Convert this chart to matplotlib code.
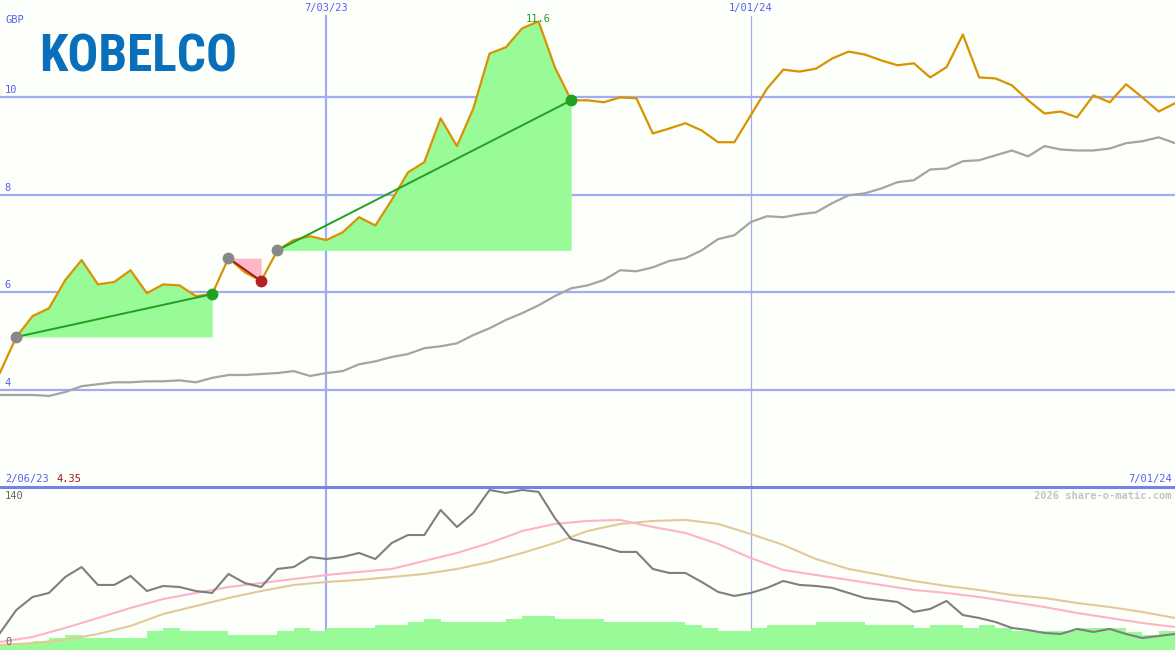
import numpy as np
import pandas as pd
import matplotlib
matplotlib.use("Agg")
import matplotlib.pyplot as plt
from matplotlib.lines import Line2D
from matplotlib.transforms import blended_transform_factory

# weekly closes, GBP
dates = pd.date_range('2023-02-13', periods=73, freq='7D')
price = [4.35, 5.08, 5.51, 5.67, 6.25, 6.66, 6.16, 6.21, 6.45, 5.98,
         6.16, 6.14, 5.92, 5.96, 6.70, 6.41, 6.23, 6.86, 7.07, 7.15,
         7.07, 7.23, 7.54, 7.37, 7.89, 8.46, 8.67, 9.57, 9.00, 9.77,
         10.90, 11.03, 11.42, 11.56, 10.62, 9.94, 9.94, 9.90, 10.00, 9.98,
         9.26, 9.36, 9.47, 9.32, 9.08, 9.08, 9.63, 10.18, 10.57, 10.53,
         10.59, 10.80, 10.94, 10.88, 10.76, 10.66, 10.70, 10.41, 10.62, 11.29,
         10.41, 10.39, 10.25, 9.94, 9.67, 9.71, 9.59, 10.04, 9.90, 10.27,
         10.00, 9.71, 9.88]
avg_slow = [3.89, 3.89, 3.89, 3.87, 3.95, 4.07, 4.11, 4.15, 4.15, 4.17,
            4.17, 4.19, 4.15, 4.24, 4.30, 4.30, 4.32, 4.34, 4.38, 4.28,
            4.34, 4.38, 4.52, 4.58, 4.67, 4.73, 4.85, 4.89, 4.95, 5.12,
            5.26, 5.43, 5.57, 5.73, 5.92, 6.08, 6.14, 6.25, 6.45, 6.43,
            6.51, 6.64, 6.70, 6.86, 7.09, 7.17, 7.44, 7.56, 7.54, 7.60,
            7.64, 7.83, 7.99, 8.03, 8.13, 8.26, 8.30, 8.52, 8.54, 8.69,
            8.71, 8.81, 8.91, 8.79, 9.00, 8.93, 8.91, 8.91, 8.95, 9.06,
            9.10, 9.18, 9.06]

# trades: (entry index, exit index)
trades = [(1, 13), (14, 16), (17, 35)]

# lower panel
osc = [14.9, 35.0, 46.4, 49.9, 63.9, 72.6, 56.9, 56.9, 64.8, 51.6,
       56.0, 55.1, 51.6, 49.9, 66.5, 58.6, 55.1, 70.9, 72.6, 81.4,
       79.6, 81.4, 84.9, 79.6, 93.6, 100.6, 100.6, 122.5, 107.6, 119.9,
       140.0, 137.4, 140.0, 138.3, 115.5, 97.1, 93.6, 90.1, 85.8, 85.8,
       70.9, 67.4, 67.4, 59.5, 50.8, 47.3, 49.9, 54.3, 60.4, 56.9,
       56.0, 54.3, 49.9, 45.5, 43.8, 42.0, 33.3, 35.9, 42.9, 30.6,
       28.0, 24.5, 19.3, 17.5, 14.9, 14.0, 18.4, 15.8, 18.4, 14.0,
       10.5, 12.3, 14.0]
# smoothed lines, every second week
osc_fast = [7.0, 11.4, 19.3, 28.0, 36.8, 44.6, 49.9, 55.1, 58.6, 62.1,
            65.6, 68.3, 70.9, 77.9, 84.9, 93.6, 104.1, 110.3, 112.9, 113.8,
            107.6, 102.4, 92.8, 80.5, 70.0, 65.6, 61.3, 56.9, 52.5, 49.9,
            46.4, 42.0, 37.6, 32.4, 28.0, 23.6, 20.1]
osc_slow = [4.4, 6.1, 8.8, 14.0, 21.0, 31.5, 38.5, 45.5, 51.6, 56.9,
            59.5, 61.3, 63.9, 66.5, 70.9, 77.0, 84.9, 93.6, 104.1, 110.3,
            112.9, 113.8, 110.3, 101.5, 91.9, 79.6, 70.9, 65.6, 60.4, 56.0,
            52.5, 48.1, 45.5, 41.1, 37.6, 33.3, 28.0]
volume = [5.3, 5.3, 7.9, 10.5, 13.1, 10.5, 10.5, 10.5, 10.5, 16.6,
          19.3, 16.6, 16.6, 16.6, 13.1, 13.1, 13.1, 16.6, 19.3, 16.6,
          19.3, 19.3, 19.3, 21.9, 21.9, 24.5, 27.1, 24.5, 24.5, 24.5,
          24.5, 27.1, 29.8, 29.8, 27.1, 27.1, 27.1, 24.5, 24.5, 24.5,
          24.5, 24.5, 21.9, 19.3, 16.6, 16.6, 19.3, 21.9, 21.9, 21.9,
          24.5, 24.5, 24.5, 21.9, 21.9, 21.9, 19.3, 21.9, 21.9, 19.3,
          21.9, 19.3, 16.6, 16.6, 16.6, 16.6, 19.3, 19.3, 19.3, 15.8,
          13.1, 16.6]

y_ticks = [4, 6, 8, 10]
marks = ['2023-07-03', '2024-01-01']
start_label, end_label = '2/06/23', '7/01/24'

bg = '#fcfffa'
grid = '#a3acf2'
blue_txt = '#5560f0'
mono = 'DejaVu Sans Mono'


def fmt(d):
    return f"{d.month}/{d.day:02d}/{d:%y}"


fig = plt.figure(figsize=(11.75, 6.5), dpi=100, facecolor=bg)
top = fig.add_axes([0, 1 - 487 / 650, 1, 487 / 650])
low = fig.add_axes([0, 0, 1, 163 / 650])
for ax in (top, low):
    ax.set_facecolor(bg)
    ax.set_xlim(dates[0], dates[-1])
    ax.set_axis_off()
top.set_ylim(2, 12)
low.set_ylim(0, 142.6)

# grid
for v in y_ticks:
    top.axhline(v, color=grid, lw=1.6, zorder=1)
    top.text(0.004, v + 0.04, str(v), transform=blended_transform_factory(top.transAxes, top.transData),
             color=blue_txt, fontsize=7.5, family=mono, va='bottom', ha='left')
for m, w in zip(marks, [1.6, 0.9]):
    d = pd.Timestamp(m)
    top.axvline(d, ymax=0.967, color=grid, lw=w, zorder=1)
    low.axvline(d, color=grid, lw=w, zorder=1)
    top.text(d, 0.993, fmt(d), transform=blended_transform_factory(top.transData, top.transAxes),
             color=blue_txt, fontsize=7.5, family=mono, ha='center', va='top')

# trades
for a, b in trades:
    entry = price[a]
    win = price[b] >= entry
    top.fill_between(dates[a:b + 1], price[a:b + 1], entry,
                     color='#98fb98' if win else '#ffb6c8', lw=0, zorder=2)

top.plot(dates, avg_slow, color='#a4a4a4', lw=1.6, zorder=3)
top.plot(dates, price, color='#d99200', lw=1.6, zorder=4)

for a, b in trades:
    win = price[b] >= price[a]
    top.plot([dates[a], dates[b]], [price[a], price[b]],
             color='#22a022' if win else '#a01818', lw=1.4, zorder=5)
    top.plot(dates[a], price[a], 'o', ms=8.5, color='#888888', mec='none', zorder=6)
    top.plot(dates[b], price[b], 'o', ms=8.5, color='#22a022' if win else '#b22222', mec='none', zorder=6)

pk = int(np.argmax(price))
top.text(dates[pk], price[pk] + 0.05, f"{price[pk]:.1f}", color='#22a022', fontsize=7.5,
         family=mono, ha='center', va='center', zorder=7)

fig.text(5 / 1175, 1 - 20 / 650, 'GBP', color=blue_txt, fontsize=7.5, family=mono, va='center')
fig.text(39 / 1175, 1 - 57 / 650, 'KOBELCO', color='#0a6fba', fontsize=37, fontweight='bold',
         family=['Roboto Condensed', 'DejaVu Sans'], va='center', ha='left')

# lower panel
low.bar(dates[:-1], volume, width=7, align='edge', color='#98fb98', lw=0, zorder=2)
low.plot(dates[::2], osc_slow, color='#e3c99a', lw=1.5, zorder=3)
low.plot(dates[::2], osc_fast, color='#ffb3c8', lw=1.5, zorder=3)
low.plot(dates, osc, color='#7f7f7f', lw=1.5, zorder=4)

fig.add_artist(Line2D([0, 1], [1 - 487 / 650] * 2, transform=fig.transFigure, color='#7383ea', lw=2.2))
fig.text(5 / 1175, 1 - 479 / 650, start_label, color=blue_txt, fontsize=7.5, family=mono, va='center')
fig.text(56 / 1175, 1 - 479 / 650, f"{price[0]:.2f}", color='#a01818', fontsize=7.5, family=mono, va='center')
fig.text(1172 / 1175, 1 - 479 / 650, end_label, color=blue_txt, fontsize=7.5, family=mono, va='center', ha='right')
fig.text(1172 / 1175, 1 - 496 / 650, '2026 share-o-matic.com', color='#c4c4c4', fontsize=7.5,
         family=mono, fontweight='bold', va='center', ha='right')
fig.text(5 / 1175, 1 - 496 / 650, '140', color='#666666', fontsize=7.5, family=mono, va='center')
fig.text(5 / 1175, 1 - 642 / 650, '0', color='#666666', fontsize=7.5, family=mono, va='center')

fig.savefig('out.png', dpi=100, facecolor=bg)
